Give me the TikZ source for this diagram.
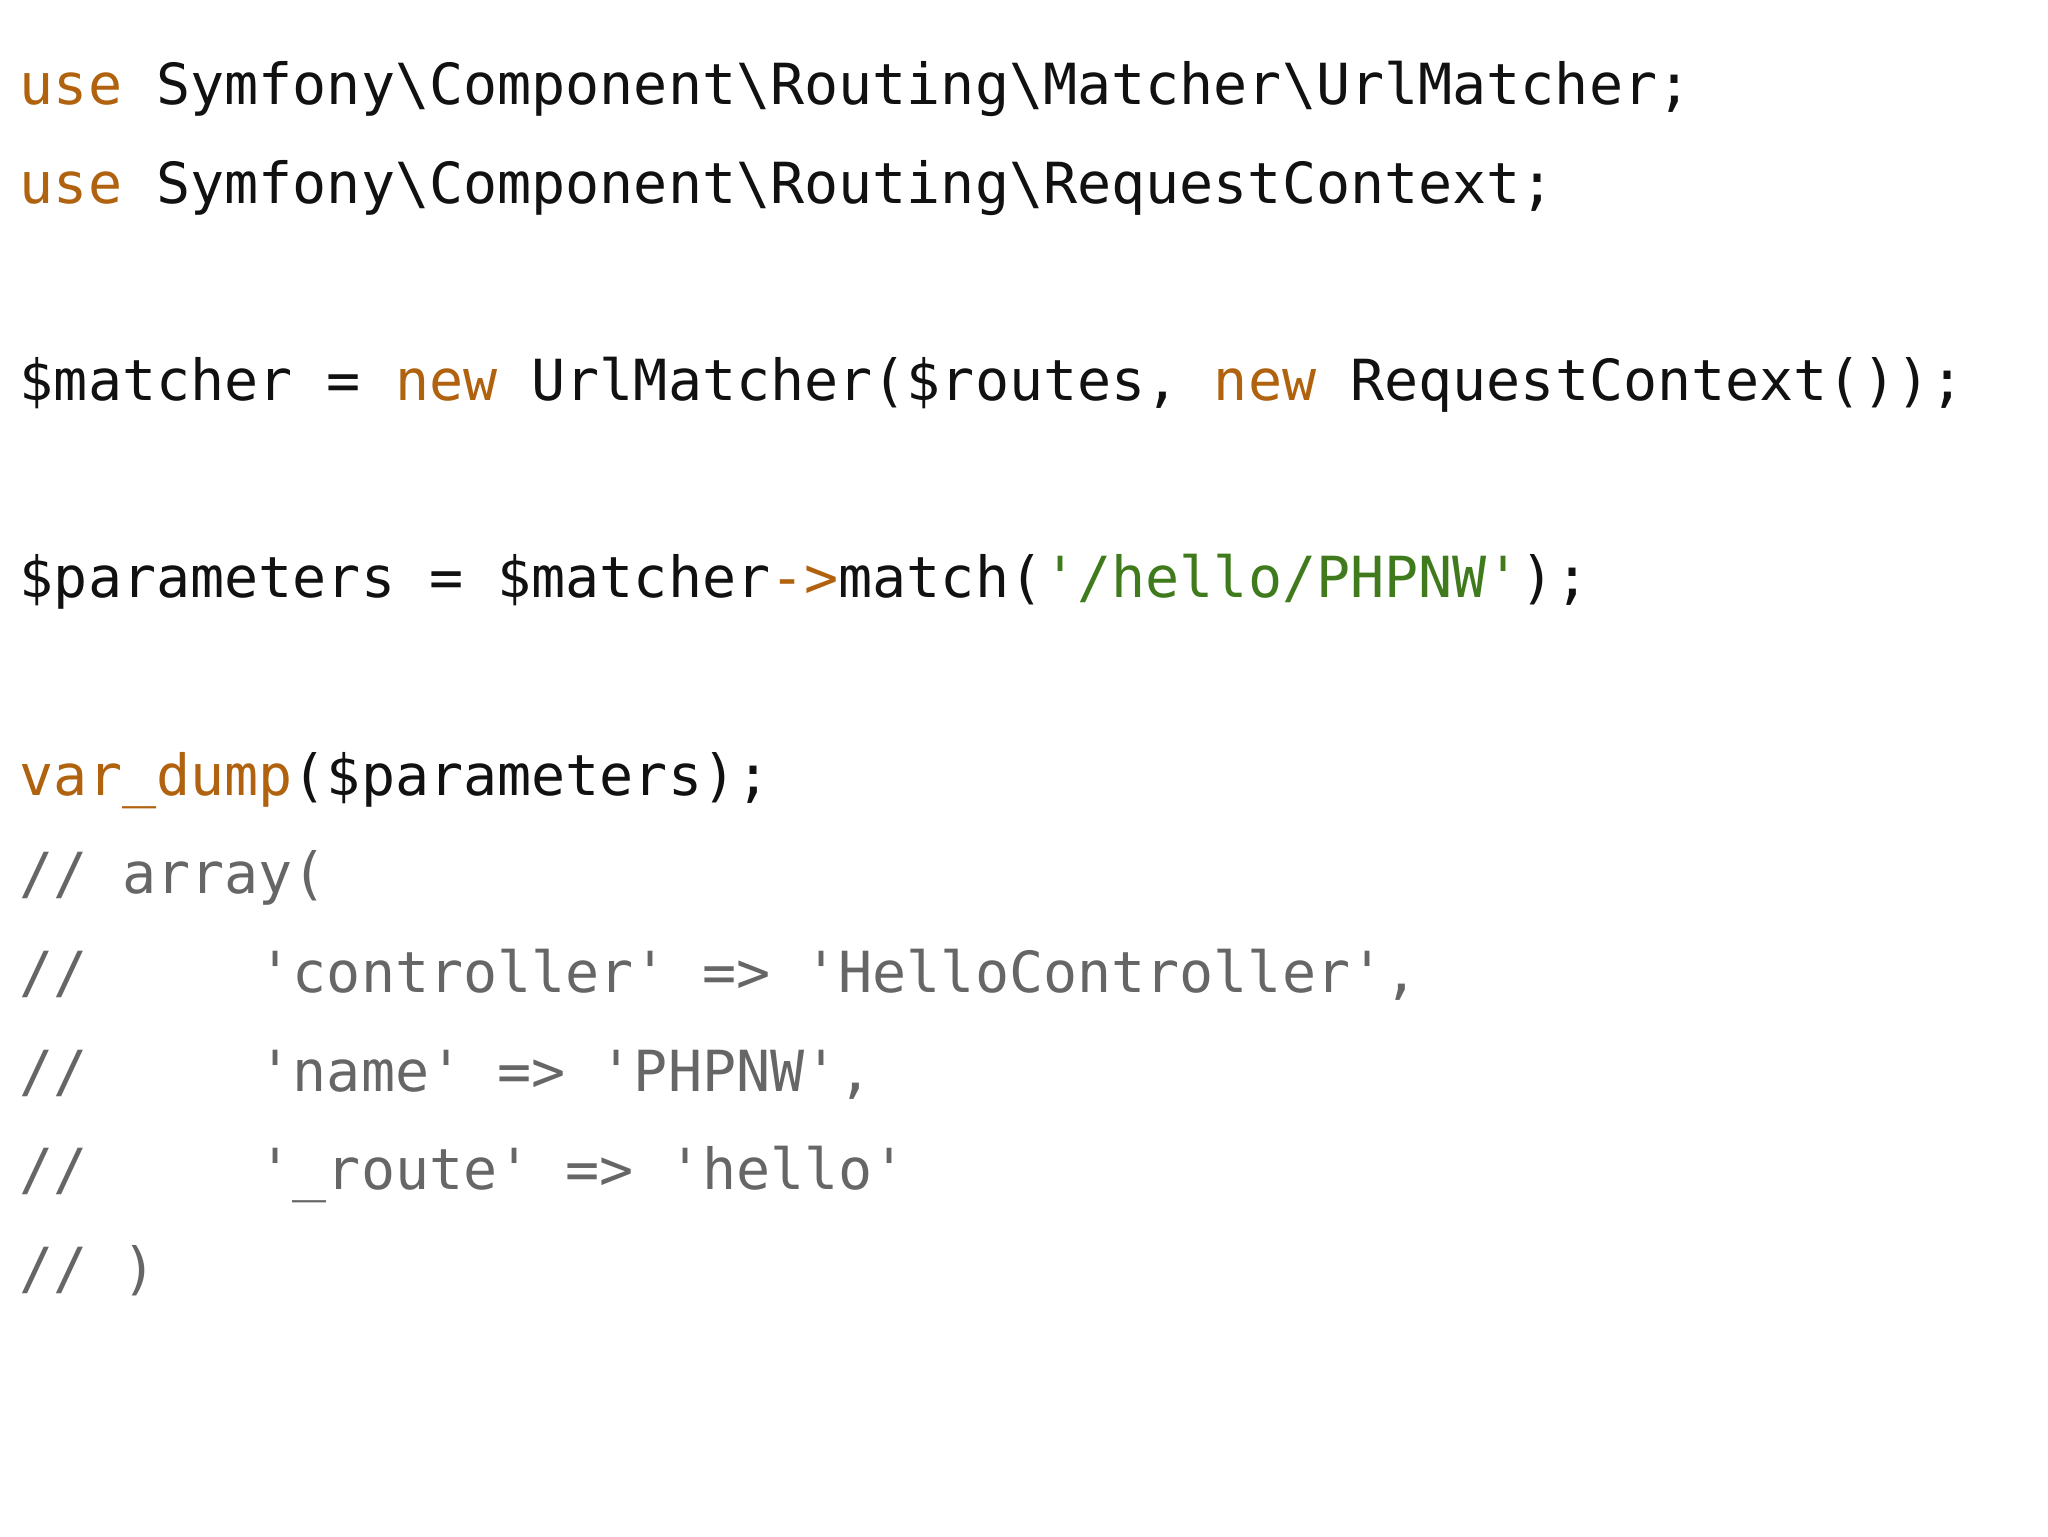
\documentclass[tikz,border=0pt]{standalone}
\usepackage{fontspec}
\setmonofont{DejaVu Sans Mono}
\definecolor{kw}{HTML}{B0620E}
\definecolor{str}{HTML}{3F7A1C}
\definecolor{cmt}{HTML}{666666}
\definecolor{txt}{HTML}{111111}
\newcommand{\bs}{\textbackslash}
\newcommand{\gapsp}[1]{\phantom{#1}}
\begin{document}
\begin{tikzpicture}[x=1pt,y=1pt,
  code/.style={anchor=base west,inner sep=0pt,font=\ttfamily\fontsize{42.5}{50}\selectfont,text=txt}]
\useasboundingbox[fill=white] (0,0) rectangle (1536,-1152);
\def\L#1{-78.4-74*#1}
\node[code] (l1) at (14.7,\L{0}) {\textcolor{kw}{use} Symfony\bs Component\bs Routing\bs Matcher\bs UrlMatcher;};
\node[code] (l2) at (14.7,\L{1}) {\textcolor{kw}{use} Symfony\bs Component\bs Routing\bs RequestContext;};
\node[code] (l3) at (14.7,\L{3}) {\$matcher = \textcolor{kw}{new} UrlMatcher(\$routes, \textcolor{kw}{new} RequestContext());};
\node[code] (l4) at (14.7,\L{5}) {\$parameters = \$matcher\textcolor{kw}{->}match(\textcolor{str}{'/hello/PHPNW'});};
\node[code] (l5) at (14.7,\L{7}) {\textcolor{kw}{var\_dump}(\$parameters);};
\node[code,text=cmt] (l6) at (14.7,\L{8}) {// array(};
\node[code,text=cmt] (l7) at (14.7,\L{9}) {//\gapsp{xxxxx}'controller' => 'HelloController',};
\node[code,text=cmt] (l8) at (14.7,\L{10}) {//\gapsp{xxxxx}'name' => 'PHPNW',};
\node[code,text=cmt] (l9) at (14.7,\L{11}) {//\gapsp{xxxxx}'\_route' => 'hello'};
\node[code,text=cmt] (l10) at (14.7,\L{12}) {// )};
\end{tikzpicture}
\end{document}
